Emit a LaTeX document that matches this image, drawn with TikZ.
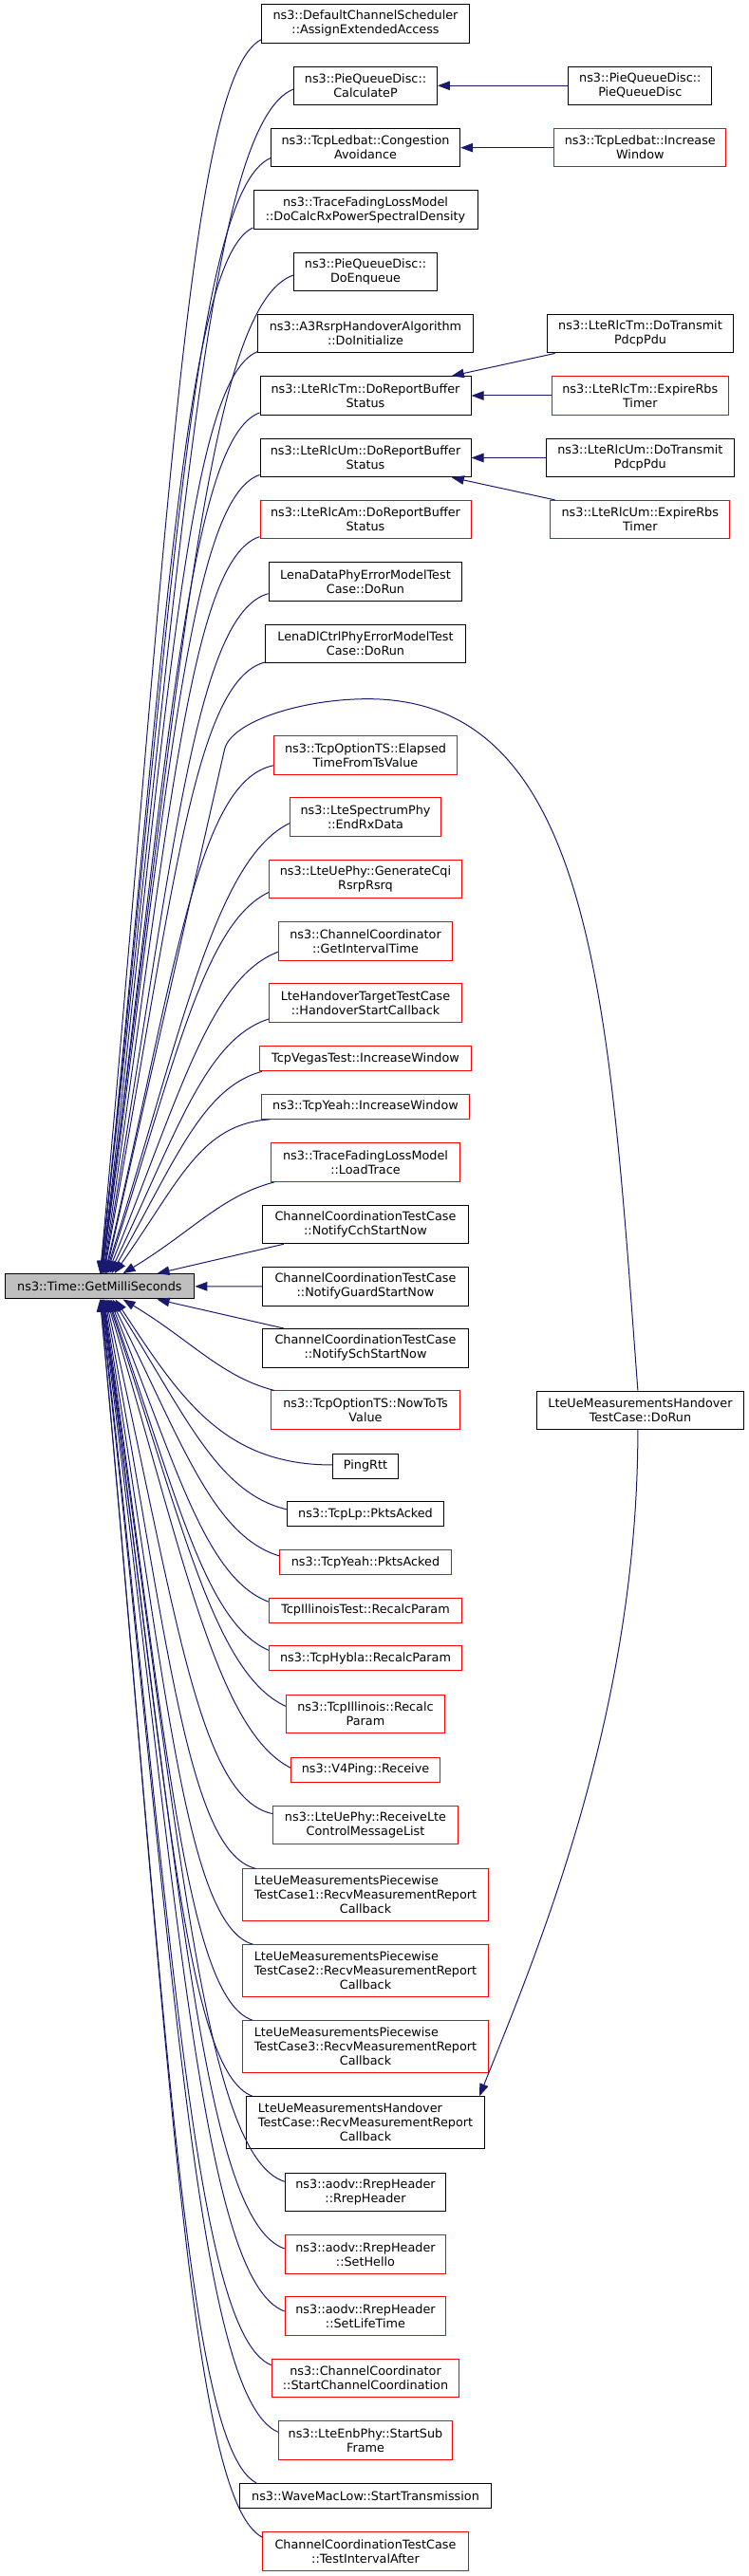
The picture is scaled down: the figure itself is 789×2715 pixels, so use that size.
\documentclass[tikz,border=0pt]{standalone}
\usepackage{fontspec}
\setmainfont{DejaVu Sans}
\usetikzlibrary{arrows.meta,calc}
\definecolor{navy}{RGB}{25,25,112}
\definecolor{dred}{RGB}{255,0,0}
\definecolor{mgray}{RGB}{191,191,191}
\newcommand\firstln[2]{\rlap{#1}\phantom{#2}}
\newcommand\cedge[6]{%
  \draw[conn] let \p1=(#1), \p2=(#2), \n1={\x1-\x2}, \n2={\y1-\y2} in
    (\p1) .. controls ({\x1-#3*\n1},{\y1-#4*\n2}) and ({\x2+#5*\n1},{\y2+#6*\n2}) .. (\p2);}
\newcommand\cfar[2]{\cedge{#1}{#2}{0.45}{0.03}{0.42}{0.6}}
\newcommand\cmid[2]{\cedge{#1}{#2}{0.4}{0.08}{0.42}{0.55}}
\newcommand\cnear[2]{\cedge{#1}{#2}{0.35}{0.15}{0.45}{0.45}}
\tikzset{
 bx/.style={draw=black, line width=1pt, fill=white, inner sep=0pt, align=center,
   font=\fontsize{12.8}{15}\selectfont, minimum height=40.5pt},
 one/.style={minimum height=26pt},
 three/.style={minimum height=54.5pt},
 rb/.style={bx, draw=dred},
 conn/.style={draw=navy, line width=1pt, -{Triangle[length=13pt,width=9.5pt]}},
}
\begin{document}
\begin{tikzpicture}[x=1pt,y=1pt]
\useasboundingbox (0,0) rectangle (789,2715);
% main node
\node[bx, one, fill=mgray, minimum width=199.8pt, minimum height=26.3pt] (main) at (104.9,1359.15) {ns3::Time::GetMilliSeconds};
% callers column
\node[bx, minimum width=218.8pt] (a1) at (385,2690.15) {ns3::DefaultChannelScheduler\\::AssignExtendedAccess};
\node[bx, minimum width=150.9pt] (a2) at (385,2624.7) {ns3::PieQueueDisc::\\CalculateP};
\node[bx, minimum width=199.3pt] (a3) at (385,2559.3) {ns3::TcpLedbat::Congestion\\Avoidance};
\node[bx, minimum width=236pt] (a4) at (385,2494) {ns3::TraceFadingLossModel\\::DoCalcRxPowerSpectralDensity};
\node[bx, minimum width=150.9pt] (a5) at (385,2428.7) {ns3::PieQueueDisc::\\DoEnqueue};
\node[bx, minimum width=226.5pt] (a6) at (385,2363.3) {ns3::A3RsrpHandoverAlgorithm\\::DoInitialize};
\node[bx, minimum width=222pt] (a7) at (385,2298) {ns3::LteRlcTm::DoReportBuffer\\Status};
\node[bx, minimum width=222pt] (a8) at (385,2232.5) {ns3::LteRlcUm::DoReportBuffer\\Status};
\node[rb, minimum width=222pt] (a9) at (385,2167.3) {ns3::LteRlcAm::DoReportBuffer\\Status};
\node[bx, minimum width=203.8pt] (a10) at (385,2101.8) {LenaDataPhyErrorModelTest\\Case::DoRun};
\node[bx, minimum width=210.8pt] (a11) at (385,2036.5) {LenaDlCtrlPhyErrorModelTest\\Case::DoRun};
\node[rb, minimum width=192.8pt] (a12) at (385,1919.2) {ns3::TcpOptionTS::Elapsed\\TimeFromTsValue};
\node[rb, minimum width=159.1pt] (a13) at (385,1853.8) {ns3::LteSpectrumPhy\\::EndRxData};
\node[rb, minimum width=202.8pt] (a14) at (385,1788.5) {ns3::LteUePhy::GenerateCqi\\RsrpRsrq};
\node[rb, minimum width=183.1pt] (a15) at (385,1723.2) {ns3::ChannelCoordinator\\::GetIntervalTime};
\node[rb, minimum width=202.8pt] (a16) at (385,1658) {LteHandoverTargetTestCase\\::HandoverStartCallback};
\node[rb, one, minimum width=223pt] (a17) at (385,1599.2) {TcpVegasTest::IncreaseWindow};
\node[rb, one, minimum width=218.8pt] (a18) at (385,1548.7) {ns3::TcpYeah::IncreaseWindow};
\node[rb, minimum width=198.3pt] (a19) at (385,1489.8) {ns3::TraceFadingLossModel\\::LoadTrace};
\node[bx, minimum width=216.3pt] (a20) at (385,1424.5) {ChannelCoordinationTestCase\\::NotifyCchStartNow};
\node[bx, minimum width=216.3pt] (a21) at (385,1359.2) {ChannelCoordinationTestCase\\::NotifyGuardStartNow};
\node[bx, minimum width=216.3pt] (a22) at (385,1294.2) {ChannelCoordinationTestCase\\::NotifySchStartNow};
\node[rb, minimum width=198.3pt] (a23) at (385,1228.8) {ns3::TcpOptionTS::NowToTs\\Value};
\node[bx, one, minimum width=69pt] (a24) at (385,1169.7) {PingRtt};
\node[bx, one, minimum width=165.6pt] (a25) at (385,1119.2) {ns3::TcpLp::PktsAcked};
\node[rb, one, minimum width=180.1pt] (a26) at (385,1068.5) {ns3::TcpYeah::PktsAcked};
\node[rb, one, minimum width=203.3pt] (a27) at (385,1017.8) {TcpIllinoisTest::RecalcParam};
\node[rb, one, minimum width=203.3pt] (a28) at (385,967) {ns3::TcpHybla::RecalcParam};
\node[rb, minimum width=167.1pt] (a29) at (385,908.3) {ns3::TcpIllinois::Recalc\\Param};
\node[rb, one, minimum width=157pt] (a30) at (385,849.8) {ns3::V4Ping::Receive};
\node[rb, minimum width=194.2pt] (a31) at (385,791.3) {ns3::LteUePhy::ReceiveLte\\ControlMessageList};
\node[rb, three, minimum width=258.2pt] (a32) at (385,718) {\firstln{LteUeMeasurementsPiecewise}{TestCase1::RecvMeasurementReport}\\TestCase1::RecvMeasurementReport\\Callback};
\node[rb, three, minimum width=258.2pt] (a33) at (385,638) {\firstln{LteUeMeasurementsPiecewise}{TestCase2::RecvMeasurementReport}\\TestCase2::RecvMeasurementReport\\Callback};
\node[rb, three, minimum width=258.2pt] (a34) at (385,558) {\firstln{LteUeMeasurementsPiecewise}{TestCase3::RecvMeasurementReport}\\TestCase3::RecvMeasurementReport\\Callback};
\node[bx, three, minimum width=251.1pt] (a35) at (385,478) {\firstln{LteUeMeasurementsHandover}{TestCase::RecvMeasurementReport}\\TestCase::RecvMeasurementReport\\Callback};
\node[bx, minimum width=169.6pt] (a36) at (385,404.5) {ns3::aodv::RrepHeader\\::RrepHeader};
\node[rb, minimum width=169.6pt] (a37) at (385,339.2) {ns3::aodv::RrepHeader\\::SetHello};
\node[rb, minimum width=169.6pt] (a38) at (385,273.8) {ns3::aodv::RrepHeader\\::SetLifeTime};
\node[rb, minimum width=197.8pt] (a39) at (385,208.5) {ns3::ChannelCoordinator\\::StartChannelCoordination};
\node[rb, minimum width=183.1pt] (a40) at (385,143.2) {ns3::LteEnbPhy::StartSub\\Frame};
\node[bx, one, minimum width=264.2pt] (a41) at (385,84.7) {ns3::WaveMacLow::StartTransmission};
\node[rb, minimum width=216.3pt] (a42) at (385,25.8) {ChannelCoordinationTestCase\\::TestIntervalAfter};
% third column
\node[bx, minimum width=151pt] (b1) at (674.3,2624.7) {ns3::PieQueueDisc::\\PieQueueDisc};
\node[rb, minimum width=181.2pt] (b2) at (674.3,2559.3) {ns3::TcpLedbat::Increase\\Window};
\node[bx, minimum width=195.7pt] (b3) at (674.5,2363.3) {ns3::LteRlcTm::DoTransmit\\PdcpPdu};
\node[rb, minimum width=186.2pt] (b4) at (674.3,2298) {ns3::LteRlcTm::ExpireRbs\\Timer};
\node[bx, minimum width=198.2pt] (b5) at (674.3,2232.5) {ns3::LteRlcUm::DoTransmit\\PdcpPdu};
\node[rb, minimum width=189.2pt] (b6) at (674.3,2167.3) {ns3::LteRlcUm::ExpireRbs\\Timer};
\node[bx, minimum width=218.9pt] (b7) at (674.5,1228.7) {LteUeMeasurementsHandover\\TestCase::DoRun};
% right-hand edges
\draw[conn] (b1.west) -- (a2.east);
\draw[conn] (b2.west) -- (a3.east);
\draw[conn] ($(b3.south west)+(8.5,0)$) -- ($(a7.north east)+(-20.7,0)$);
\draw[conn] (b4.west) -- (a7.east);
\draw[conn] (b5.west) -- (a8.east);
\draw[conn] ($(b6.north west)+(5.5,0)$) -- ($(a8.south east)+(-20.7,0)$);
% straight edges to main
\draw[conn] (a21.west) -- (main.east);
\draw[conn] ($(a20.south west)+(22.6,0)$) -- ($(main.north west)+(161,0)$);
\draw[conn] ($(a22.north west)+(22.6,0)$) -- ($(main.south west)+(161,0)$);
% callers above
\cfar{$(a1.west)+(0,-16.9)$}{$(main.north west)+(101,0)$}
\cfar{$(a2.west)+(0,-3.7)$}{$(main.north west)+(101,0)$}
\cfar{$(a3.west)+(0,-11)$}{$(main.north west)+(101.5,0)$}
\cfar{$(a4.west)+(0,-19)$}{$(main.north west)+(102,0)$}
\cfar{$(a5.west)+(0,-3.7)$}{$(main.north west)+(102,0)$}
\cfar{$(a6.west)+(0,-19)$}{$(main.north west)+(102.5,0)$}
\cfar{$(a7.west)+(0,-18)$}{$(main.north west)+(103,0)$}
\cfar{$(a8.west)+(0,-18)$}{$(main.north west)+(103,0)$}
\cfar{$(a9.west)+(0,-18)$}{$(main.north west)+(104,0)$}
\cfar{$(a10.west)+(0,-12.5)$}{$(main.north west)+(104.5,0)$}
\cfar{$(a11.west)+(0,-19.5)$}{$(main.north west)+(105,0)$}
\cfar{$(a12.west)+(0,-11)$}{$(main.north west)+(106,0)$}
\cmid{$(a13.west)+(0,-6.5)$}{$(main.north west)+(107,0)$}
\cmid{$(a14.west)+(0,-14)$}{$(main.north west)+(108,0)$}
\cmid{$(a15.west)+(0,-11.5)$}{$(main.north west)+(109,0)$}
\cmid{$(a16.west)+(0,-17)$}{$(main.north west)+(111,0)$}
\cmid{$(a17.south west)+(3,0)$}{$(main.north west)+(113,0)$}
\cfar{$(a18.south west)+(9.5,0)$}{$(main.north west)+(116,0)$}
\cnear{$(a19.south west)+(3.5,0)$}{$(main.north west)+(125,0)$}
% callers below
\cnear{$(a23.north west)+(3.5,0)$}{$(main.south west)+(125,0)$}
\cedge{$(a24.west)+(0,1.3)$}{$(main.south west)+(117,0)$}{0.5}{0}{0.3}{0.6}
\cmid{$(a25.west)+(0,5)$}{$(main.south west)+(114,0)$}
\cmid{$(a26.west)+(0,6.5)$}{$(main.south west)+(112,0)$}
\cmid{$(a27.west)+(0,9)$}{$(main.south west)+(111,0)$}
\cmid{$(a28.west)+(0,8.7)$}{$(main.south west)+(110,0)$}
\cmid{$(a29.west)+(0,8.4)$}{$(main.south west)+(109,0)$}
\cmid{$(a30.west)+(0,2)$}{$(main.south west)+(108,0)$}
\cfar{$(a31.west)+(0,12)$}{$(main.south west)+(107,0)$}
\cfar{$(a32.north west)+(13.5,0)$}{$(main.south west)+(106,0)$}
\cfar{$(a33.north west)+(11,0)$}{$(main.south west)+(105,0)$}
\cfar{$(a34.north west)+(10.7,0)$}{$(main.south west)+(104.5,0)$}
\cfar{$(a35.north west)+(7,0)$}{$(main.south west)+(104,0)$}
\cfar{$(a36.west)+(0,11.2)$}{$(main.south west)+(103.5,0)$}
\cfar{$(a37.west)+(0,5.8)$}{$(main.south west)+(103,0)$}
\cfar{$(a38.west)+(0,5.2)$}{$(main.south west)+(102.5,0)$}
\cfar{$(a39.west)+(0,13.8)$}{$(main.south west)+(102,0)$}
\cfar{$(a40.west)+(0,8.5)$}{$(main.south west)+(101.5,0)$}
\cfar{$(a41.north west)+(17.6,0)$}{$(main.south west)+(101,0)$}
\cfar{$(a42.west)+(0,15)$}{$(main.south west)+(101,0)$}
% DoRun edges
\coordinate (peak) at (387.5,1978.3);
\coordinate (knee) at (236.5,1925);
\draw[conn] ($(b7.north)+(-2.6,0)$) .. controls +(-30,400) and +(240,0) .. (peak)
  .. controls +(-70,0) and +(6.6,29.3) .. (knee) -- ($(main.north west)+(107,0)$);
\draw[conn] ($(b7.south)+(-2.6,0)$) .. controls +(0,-300) and +(60,150) .. ($(a35.north east)+(-6,0)$);
\end{tikzpicture}
\end{document}
